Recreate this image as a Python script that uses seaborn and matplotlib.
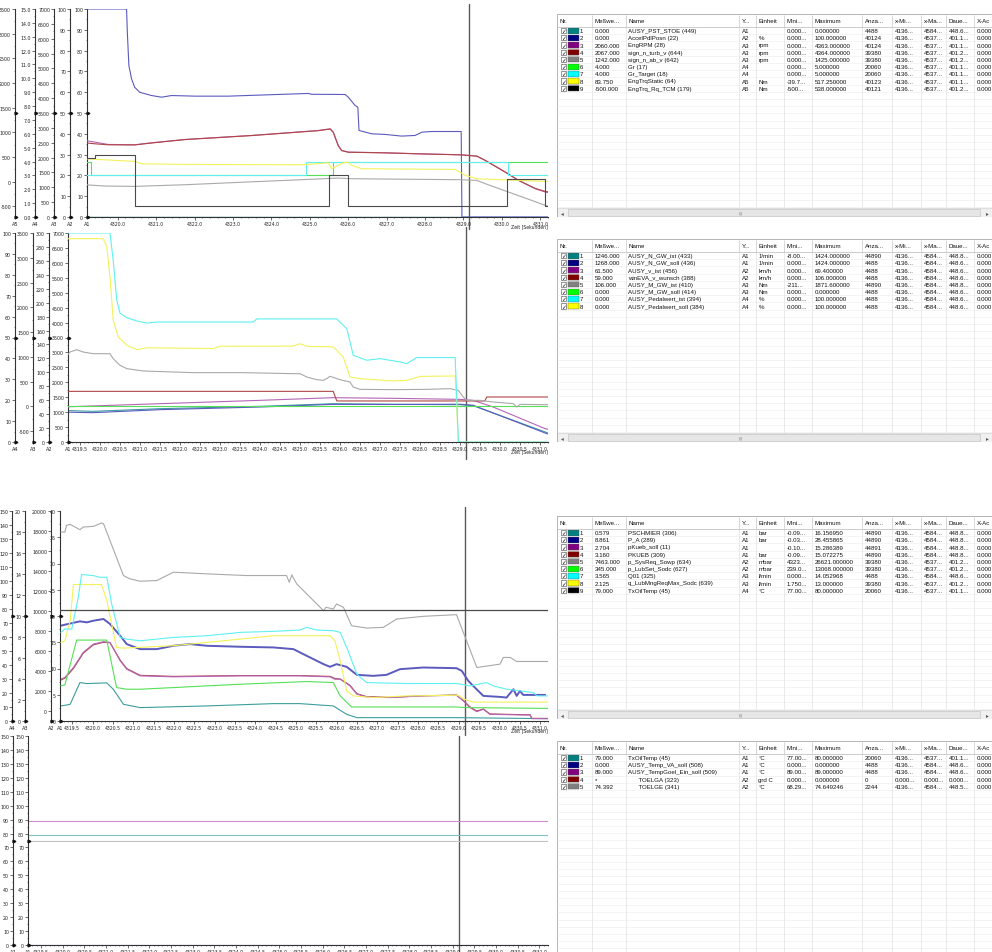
import matplotlib
matplotlib.use("Agg")
import matplotlib.pyplot as plt
import seaborn as sns
from matplotlib.patches import Rectangle
from matplotlib.lines import Line2D
from matplotlib.ticker import MultipleLocator, AutoMinorLocator, FormatStrFormatter

sns.set_theme(style="ticks")
plt.rcParams["font.family"] = ["DejaVu Sans"]

W, H = 992, 953
T_RANGE = (4319.2, 4331.2)
CURSOR_T = 4329.15

# ---------------- window 1 : engine / gear ----------------
w1_pst_t = [4319.1, 4331.3]
w1_pst_v = [0, 0]
w1_pedal_t = [4319.14, 4320.23, 4320.25, 4320.29, 4320.36, 4320.44, 4320.57, 4320.88, 4321.14,
              4321.40, 4322.01, 4322.88, 4323.83, 4324.96, 4325.05, 4325.92, 4326.00, 4326.18,
              4326.25, 4326.28, 4326.61, 4326.96, 4327.39, 4327.74, 4327.92, 4328.18, 4328.94,
              4328.96, 4331.3]
w1_pedal_v = [100, 100, 88.8, 72.8, 66.4, 62.4, 60.0, 58.4, 57.6, 58.4, 58.1, 58.1, 58.7, 59.4,
              59.0, 58.9, 57.6, 53.6, 52.8, 41.6, 40.0, 39.7, 38.9, 39.2, 40.8, 41.1, 41.1, 0, 0]
w1_rpm_t = [4319.14, 4319.40, 4319.75, 4320.44, 4320.88, 4321.75, 4323.48, 4325.22, 4325.53,
            4325.61, 4325.74, 4325.83, 4326.00, 4326.96, 4327.83, 4328.96, 4329.35, 4329.57,
            4330.09, 4330.43, 4330.87, 4331.13, 4331.3]
w1_eng_rpm = [2576, 2520, 2442, 2430, 2498, 2610, 2744, 2912, 2968, 2856, 2408, 2240, 2184, 2162,
              2128, 2094, 2050, 1904, 1512, 1232, 952, 840, 800]
w1_turb_rpm = [2498, 2464, 2430, 2425, 2490, 2605, 2740, 2905, 2960, 2850, 2400, 2235, 2180, 2158,
               2125, 2090, 2046, 1900, 1508, 1235, 960, 860, 830]
w1_ab_t = [4319.14, 4319.66, 4320.44, 4321.75, 4324.35, 4325.74, 4326.09, 4328.96, 4329.35,
           4329.57, 4331.13, 4331.3]
w1_ab_v = [1086, 1042, 1030, 1086, 1232, 1310, 1288, 1254, 1232, 1120, 392, 320]
w1_gr_t = [4319.1, 4319.30, 4325.60, 4331.3]
w1_gr_v = [4, 3, 4, 4]
w1_grtgt_t = [4319.1, 4324.91, 4330.15, 4331.3]
w1_grtgt_v = [3, 4, 3, 3]
w1_trq_t = [4319.14, 4320.44, 4320.62, 4321.75, 4324.87, 4325.48, 4325.57, 4325.74, 4325.87,
            4326.0, 4326.09, 4326.35, 4328.78, 4329.05, 4329.35, 4331.13, 4331.3]
w1_trq_v = [462, 408, 360, 347, 340, 380, 259, 327, 380, 394, 327, 259, 245, 124, 56, 2, 2]
w1_tcm_t = [4319.1, 4319.40, 4320.44, 4325.50, 4326.00, 4330.12, 4331.11, 4331.3]
w1_tcm_v = [480, 529, -500, 124, -500, 56, -500, -500]

# ---------------- window 2 : vehicle / pedal ----------------
w2_n_t = [4319.0, 4319.83, 4321.5, 4324.0, 4325.83, 4327.33, 4329.0, 4329.33, 4331.13, 4331.3]
w2_n_ist = [1060, 1027, 1116, 1194, 1283, 1262, 1250, 1215, 335, 250]
w2_n_soll = [1004, 982, 1083, 1172, 1261, 1258, 1265, 1230, 301, 220]
w2_v_t = [4319.0, 4321.5, 4324.0, 4325.83, 4327.33, 4329.0, 4329.33, 4329.83, 4331.13, 4331.3]
w2_v_ist = [50.2, 55.0, 59.8, 63.6, 62.7, 61.2, 59.8, 50.2, 19.1, 17.0]
w2_vw_t = [4319.0, 4325.83, 4325.92, 4329.62, 4329.67, 4331.3]
w2_vw_v = [72.7, 72.7, 58.9, 58.9, 64.6, 64.6]
w2_m_t = [4319.0, 4319.08, 4319.25, 4319.42, 4319.58, 4319.83, 4320.25, 4320.33, 4320.5, 4320.67,
          4321.08, 4322.33, 4323.58, 4324.83, 4325.0, 4325.17, 4325.42, 4325.58, 4325.67, 4325.75,
          4326.0, 4326.25, 4326.33, 4326.5, 4327.33, 4328.17, 4328.75, 4328.96, 4329.08, 4329.17,
          4329.5, 4329.83, 4330.33, 4330.42, 4330.5, 4331.13, 4331.3]
w2_m_ist = [862, 929, 1097, 1144, 1097, 1063, 1063, 962, 828, 761, 714, 680, 680, 660, 660, 592,
            538, 525, 560, 606, 538, 491, 390, 343, 337, 343, 357, 323, 189, 121, 121, 88, 54,
            -13, 40, 34, 34]
w2_msoll_t = [4319.0, 4331.3]
w2_msoll_v = [0, 0]
w2_pist_t = [4319.0, 4320.25, 4320.33, 4320.42, 4320.5, 4320.67, 4320.92, 4321.17, 4321.42,
             4323.83, 4323.92, 4325.92, 4326.17, 4326.25, 4326.33, 4326.67, 4327.0, 4327.5,
             4327.67, 4327.92, 4328.88, 4328.96, 4331.3]
w2_pist_v = [100, 100, 86.9, 67.8, 61.7, 59.5, 57.9, 56.9, 57.4, 57.4, 58.9, 58.9, 54.2, 47.9,
             41.5, 39.1, 39.9, 38.3, 37.5, 40.4, 40.4, 0, 0]
w2_psoll_t = [4319.0, 4320.08, 4320.17, 4320.25, 4320.33, 4320.46, 4320.67, 4320.92, 4321.17,
              4322.83, 4323.0, 4324.83, 4325.0, 4325.17, 4325.83, 4326.08, 4326.25, 4326.5,
              4327.33, 4327.67, 4328.0, 4328.88, 4328.96, 4331.3]
w2_psoll_v = [97.3, 97.3, 93.3, 79.0, 58.2, 50.2, 46.3, 44.2, 45.1, 44.7, 45.8, 45.9, 47.0, 45.8,
              45.5, 40.7, 31.1, 30.3, 29.2, 29.5, 31.4, 31.6, 0, 0]

# ---------------- window 3 : hydraulics ----------------
w3_schm_t = [4319.22, 4319.32, 4319.45, 4319.69, 4319.86, 4320.35, 4320.51, 4320.76, 4321.17,
             4322.81, 4324.45, 4325.1, 4325.92, 4326.25, 4326.5, 4328.95, 4331.13, 4331.2]
w3_schm_v = [2.87, 2.99, 3.18, 7.32, 7.13, 7.26, 6.05, 3.18, 2.55, 2.87, 3.31, 3.31, 2.87, 1.27,
             0.64, 0.64, 0.45, 0.45]
w3_pa_t = [4319.22, 4319.32, 4319.69, 4319.86, 4320.02, 4320.27, 4320.43, 4320.68, 4320.84,
           4321.17, 4321.58, 4321.99, 4322.4, 4322.81, 4323.63, 4324.45, 4324.94, 4325.1,
           4325.68, 4325.84, 4326.0, 4326.25, 4326.5, 4326.9, 4327.23, 4327.56, 4328.13,
           4328.95, 4329.08, 4329.24, 4329.36, 4329.61, 4330.02, 4330.18, 4330.35, 4330.43,
           4330.51, 4330.59, 4331.13]
w3_pa_v = [18.15, 18.34, 18.98, 18.79, 19.1, 19.43, 18.47, 16.24, 14.65, 13.69, 13.69, 14.33,
           14.65, 14.33, 14.14, 14.01, 13.69, 13.06, 10.83, 10.32, 10.83, 10.32, 8.79, 8.6, 8.79,
           9.87, 10.19, 10.06, 9.55, 7.64, 6.69, 4.78, 4.59, 4.46, 6.05, 4.78, 5.73, 4.97, 4.97]
w3_kueb_t = [4319.22, 4319.32, 4319.53, 4319.77, 4320.02, 4320.27, 4320.43, 4320.68, 4320.84,
             4321.17, 4321.99, 4323.63, 4325.1, 4325.84, 4325.96, 4326.09, 4326.33, 4326.5,
             4326.74, 4327.31, 4328.13, 4328.95, 4329.12, 4329.28, 4329.45, 4329.61, 4329.77,
             4330.59, 4330.76, 4330.8, 4331.2]
w3_kueb_soll = [7.96, 8.28, 10.19, 13.06, 14.65, 15.1, 14.97, 11.46, 9.87, 8.6, 8.41, 8.6, 8.6,
                8.41, 7.96, 7.96, 6.69, 5.1, 4.59, 4.46, 4.78, 4.9, 3.82, 2.55, 1.78, 2.23, 1.27,
                1.15, 1.15, 0.45, 0.45]
w3_kueb_ist = [7.8, 8.15, 10.0, 12.9, 14.5, 15.0, 14.9, 11.6, 10.0, 8.7, 8.5, 8.65, 8.65, 8.5,
               8.1, 8.0, 6.8, 5.2, 4.65, 4.5, 4.8, 4.95, 3.9, 2.7, 1.9, 2.3, 1.35, 1.2, 1.2, 0.5,
               0.5]
w3_sys_t = [4319.22, 4319.32, 4319.36, 4319.45, 4319.69, 4319.77, 4320.02, 4320.22, 4320.27,
            4320.76, 4320.92, 4321.17, 4321.58, 4321.99, 4322.81, 4323.79, 4324.77, 4324.84,
            4324.9, 4325.02, 4325.68, 4325.74, 4325.92, 4326.0, 4326.17, 4326.37, 4326.74,
            4327.15, 4327.48, 4328.13, 4328.95, 4329.45, 4330.02, 4330.1, 4330.27, 4330.43,
            4331.2]
w3_sys_v = [17894, 17894, 18562, 18663, 18127, 18395, 18462, 18796, 18730, 13546, 13212, 12978,
            13045, 13881, 13714, 13546, 13546, 12877, 13613, 12710, 10035, 10370, 10202, 10704,
            10370, 8530, 8296, 8363, 9199, 9467, 9634, 4350, 4685, 5354, 5354, 4952, 4952]
w3_lub_t = [4319.22, 4319.32, 4319.61, 4320.35, 4320.59, 4320.84, 4321.17, 4323.63, 4325.27,
            4325.92, 4326.09, 4326.37, 4328.95, 4329.12, 4331.13, 4331.2]
w3_lub_v = [2511, 2612, 7092, 7092, 2344, 2177, 2177, 2678, 2946, 2846, 1508, 404, 404, 345, 260,
            260]
w3_q01_t = [4319.22, 4319.32, 4319.49, 4319.65, 4319.73, 4320.02, 4320.18, 4320.35, 4320.47,
            4320.68, 4320.84, 4321.17, 4321.99, 4322.81, 4323.63, 4324.45, 4325.1, 4325.27,
            4325.51, 4325.92, 4326.09, 4326.25, 4326.5, 4326.74, 4327.72, 4328.95, 4329.28,
            4329.69, 4329.86, 4330.18, 4330.84, 4330.93, 4331.2]
w3_q01_v = [8.44, 8.76, 8.76, 11.78, 13.95, 13.85, 13.69, 13.69, 11.15, 7.96, 7.80, 7.64, 7.96,
            8.12, 8.44, 8.54, 8.66, 8.92, 8.66, 8.60, 8.44, 7.01, 4.46, 3.66, 3.57, 3.57, 3.34,
            3.66, 3.34, 3.03, 2.71, 2.39, 2.39]
w3_qmax_t = [4319.22, 4319.32, 4319.45, 4319.53, 4320.22, 4320.35, 4320.59, 4320.76, 4321.99,
             4323.63, 4324.45, 4325.84, 4325.96, 4326.09, 4326.25, 4326.41, 4326.9, 4327.72,
             4328.99, 4329.12, 4329.36, 4331.2]
w3_qmax_v = [7.48, 7.64, 9.55, 13.0, 13.0, 11.46, 7.0, 6.94, 7.17, 7.8, 8.12, 8.12, 7.64, 5.73,
             2.87, 2.39, 2.23, 2.39, 2.45, 2.1, 1.8, 1.8]
w3_oil_t = [4319.2, 4331.2]
w3_oil_v = [79, 79]

# ---------------- window 4 : temperatures ----------------
w4_t = [4319.2, 4331.2]
w4_oil_v = [79.0, 79.0]
w4_va_soll_v = [0.0, 0.0]
w4_goel_soll_v = [89.0, 89.0]
w4_toelge_v = [74.392, 74.392]

# ---------------- channel tables ----------------
TABLE_HEAD = ["Nr.", "Meßwe...", "Name", "Y...", "Einheit", "Mini...", "Maximum", "Anza...",
              "x-Mi...", "x-Ma...", "Daue...", "X-Ac"]
SWATCH = ["#008080", "#000080", "#800080", "#800000", "#808080", "#00ff00", "#00ffff",
          "#ffff00", "#000000"]

t1_value = ["0.000", "0.000", "2060.000", "2067.000", "1242.000", "4.000", "4.000", "83.750", "-500.000"]
t1_name = ["AUSY_PST_STOE (449)", "AccelPdlPosn (22)", "EngRPM (28)", "sign_n_turb_v (644)",
           "sign_n_ab_v (642)", "Gr (17)", "Gr_Target (18)", "EngTrqStatic (64)", "EngTrq_Rq_TCM (179)"]
t1_axis = ["A1", "A2", "A3", "A3", "A3", "A4", "A4", "A5", "A5"]
t1_unit = ["", "%", "rpm", "rpm", "rpm", "", "", "Nm", "Nm"]
t1_min = ["0.000...", "0.000...", "0.000...", "0.000...", "0.000...", "0.000...", "0.000...", "-39.7...", "-500..."]
t1_max = ["0.000000", "100.000000", "4363.000000", "4364.000000", "1425.000000", "5.000000",
          "5.000000", "517.250000", "538.000000"]
t1_count = ["4488", "40124", "40124", "39380", "39380", "20060", "20060", "40123", "40121"]
t1_xmin = ["4136..."] * 9
t1_xmax = ["4584..."] + ["4537..."] * 8
t1_dur = ["448.6...", "401.1...", "401.1...", "401.2...", "401.2...", "401.1...", "401.1...", "401.1...", "401.2..."]
t1_xac = ["0.000"] * 9

t2_value = ["1246.000", "1268.000", "61.500", "59.000", "106.000", "0.000", "0.000", "0.000"]
t2_name = ["AUSY_N_GW_ist (433)", "AUSY_N_GW_soll (436)", "AUSY_v_ist (456)", "winEVA_v_wunsch (388)",
           "AUSY_M_GW_ist (410)", "AUSY_M_GW_soll (414)", "AUSY_Pedalwert_ist (394)",
           "AUSY_Pedalwert_soll (384)"]
t2_axis = ["A1", "A1", "A2", "A2", "A3", "A3", "A4", "A4"]
t2_unit = ["1/min", "1/min", "km/h", "km/h", "Nm", "Nm", "%", "%"]
t2_min = ["-8.00...", "0.000...", "0.000...", "0.000...", "-211...", "0.000...", "0.000...", "0.000..."]
t2_max = ["1424.000000", "1424.000000", "69.400000", "106.000000", "1871.600000", "0.000000",
          "100.000000", "100.000000"]
t2_count = ["44890", "4488", "4488", "4488", "44890", "4488", "4488", "4488"]
t2_xmin = ["4136..."] * 8
t2_xmax = ["4584..."] * 8
t2_dur = ["448.8...", "448.6...", "448.6...", "448.6...", "448.8...", "448.6...", "448.6...", "448.6..."]
t2_xac = ["0.000"] * 8

t3_value = ["0.579", "8.861", "2.704", "3.160", "7463.000", "345.000", "3.565", "2.125", "79.000"]
t3_name = ["PSCHMIER (306)", "P_A (289)", "pKueb_soll (11)", "PKUEB (309)", "p_SysReq_Sowp (634)",
           "p_LubSet_Sodc (627)", "Q01 (325)", "q_LubMngReqMax_Sodc (639)", "TxOilTemp (45)"]
t3_axis = ["A1", "A1", "A1", "A1", "A2", "A2", "A3", "A3", "A4"]
t3_unit = ["bar", "bar", "", "bar", "mbar", "mbar", "l/min", "l/min", "°C"]
t3_min = ["-0.09...", "-0.03...", "-0.10...", "-0.09...", "4323...", "239.0...", "0.000...", "1.750...", "77.00..."]
t3_max = ["16.156950", "28.455865", "15.286389", "15.072275", "26621.000000", "13068.000000",
          "14.052968", "13.000000", "80.000000"]
t3_count = ["44890", "44890", "44891", "44890", "39380", "39380", "4488", "39380", "20060"]
t3_xmin = ["4136..."] * 9
t3_xmax = ["4584...", "4584...", "4584...", "4584...", "4537...", "4537...", "4584...", "4537...", "4537..."]
t3_dur = ["448.8...", "448.8...", "448.8...", "448.8...", "401.2...", "401.2...", "448.6...", "401.2...", "401.1..."]
t3_xac = ["0.000"] * 9

t4_value = ["79.000", "0.000", "89.000", "*", "74.392"]
t4_name = ["TxOilTemp (45)", "AUSY_Temp_VA_soll (508)", "AUSY_TempGoel_Ein_soll (509)",
           "      TOELGA (323)", "      TOELGE (341)"]
t4_axis = ["A1", "A1", "A1", "A2", "A2"]
t4_unit = ["°C", "°C", "°C", "grd C", "°C"]
t4_min = ["77.00...", "0.000...", "89.00...", "0.000...", "68.29..."]
t4_max = ["80.000000", "0.000000", "89.000000", "0.000000", "74.649246"]
t4_count = ["20060", "4488", "4488", "0", "2244"]
t4_xmin = ["4136...", "4136...", "4136...", "0.000...", "4136..."]
t4_xmax = ["4537...", "4584...", "4584...", "0.000...", "4584..."]
t4_dur = ["401.1...", "448.6...", "448.6...", "0.000...", "448.5..."]
t4_xac = ["0.000"] * 5

# line colours as rendered in the graph windows
C_TEAL, C_NAVY, C_PURP, C_MAR = "#3c9e9e", "#5a5abf", "#b565b5", "#b04545"
C_GRAY, C_LIME, C_CYAN, C_YEL, C_BLK = "#a9a9a9", "#55e055", "#5ff0f0", "#f2f25a", "#4a4a4a"

fig = plt.figure(figsize=(W / 100, H / 100), dpi=100)
fig.patch.set_facecolor("white")
AX_COLOR = "#333333"


def rect(x0, y0, x1, y1):
    return [x0 / W, 1 - y1 / H, (x1 - x0) / W, (y1 - y0) / H]


def marker(px, py, ms=2.0):
    fig.add_artist(Line2D([px / W], [1 - py / H], marker=">", ms=ms, color="#111111",
                          lw=0, transform=fig.transFigure))


def make_axes(key, box, defs, xstep, cursor_span):
    x0, y0, x1, y1 = box
    axes = {}
    host = None
    for name, spine_x, lo, hi, step, fmt in defs:
        ax = fig.add_axes(rect(x0, y0, x1, y1), label=f"{key}{name}", sharex=host)
        ax.set_facecolor("none")
        ax.grid(False)
        for side in ("top", "right"):
            ax.spines[side].set_visible(False)
        ax.spines["left"].set_position(("outward", (x0 - spine_x) * 0.72))
        ax.spines["left"].set_color(AX_COLOR)
        ax.spines["left"].set_linewidth(0.8)
        ax.set_ylim(lo, hi)
        ax.yaxis.set_major_locator(MultipleLocator(step))
        ax.yaxis.set_minor_locator(AutoMinorLocator(2))
        ax.yaxis.set_major_formatter(FormatStrFormatter(fmt))
        ax.tick_params(axis="y", which="major", direction="out", length=2, width=0.5,
                       color=AX_COLOR, labelsize=3.4, labelcolor="#222222", pad=0.8, left=True)
        ax.tick_params(axis="y", which="minor", direction="out", length=1, width=0.4,
                       color=AX_COLOR, left=True)
        if host is None:
            host = ax
            ax.spines["bottom"].set_color(AX_COLOR)
            ax.spines["bottom"].set_linewidth(0.8)
            ax.xaxis.set_major_locator(MultipleLocator(xstep))
            ax.xaxis.set_minor_locator(AutoMinorLocator(5))
            ax.xaxis.set_major_formatter(FormatStrFormatter("%.1f"))
            ax.tick_params(axis="x", which="major", direction="out", length=2, width=0.5,
                           color=AX_COLOR, labelsize=3.3, labelcolor="#222222", pad=0.8, bottom=True)
            ax.tick_params(axis="x", which="minor", direction="out", length=1, width=0.4,
                           color=AX_COLOR, bottom=True)
        else:
            ax.spines["bottom"].set_visible(False)
            ax.tick_params(axis="x", which="both", bottom=False, labelbottom=False)
        fig.text(spine_x / W, 1 - (y1 + 7) / H, name, ha="center", va="center",
                 fontsize=3.6, color="#222222")
        marker(spine_x + 1.2, (y0 + y1) / 2)
        marker(spine_x + 1.2, y1 - 0.5)
        axes[name] = ax
    host.set_xlim(*T_RANGE)
    fig.text(x1 / W, 1 - (y1 + 9) / H, "Zeit [Sekunden]", ha="right", va="center",
             fontsize=3.3, color="#222222")
    host.axvline(CURSOR_T, ymin=cursor_span[0], ymax=cursor_span[1], clip_on=False,
                 color="#5a5a5a", lw=1.0, zorder=0.5)
    return axes


def draw(ax, t, v, color, lw=0.8, steps=False):
    extra = {"drawstyle": "steps-post"} if steps else {}
    sns.lineplot(x=t, y=v, ax=ax, color=color, linewidth=lw, estimator=None, sort=False,
                 legend=False, **extra)
    ax.set_xlabel("")
    ax.set_ylabel("")


COLS = [557, 592, 626, 739, 756, 784, 812, 862, 892, 921, 946, 974, 992]
TFONT = dict(fontsize=4.4, family=["Liberation Sans", "DejaVu Sans"], color="#111111")


def make_table(key, y_top, y_bot, columns, scroll=True):
    tx = fig.add_axes(rect(557, y_top, 992, y_bot), label=key)
    tx.set_xlim(557, 992)
    tx.set_ylim(y_bot, y_top)
    tx.axis("off")
    hdr = 13.0
    row_h = 7.2
    body_bot = y_bot - 9 if scroll else y_bot
    yy = y_top + hdr + row_h
    while yy < body_bot:
        tx.hlines(yy, 557, 992, color="#ededed", lw=0.4)
        yy += row_h
    tx.vlines(COLS[1:-1], y_top + hdr, body_bot, color="#e2e2e2", lw=0.5)
    tx.vlines(COLS[1:-1], y_top + 1, y_top + hdr, color="#c8c8c8", lw=0.5)
    tx.hlines(y_top + hdr, 557, 992, color="#c4c4c4", lw=0.6)
    for c, head in enumerate(TABLE_HEAD):
        tx.text(COLS[c] + 2.5, y_top + hdr / 2, head, va="center", ha="left", **TFONT)
    n = len(columns[0])
    for r in range(n):
        yc = y_top + hdr + row_h * (r + 0.5)
        tx.add_patch(Rectangle((561, yc - 2.6), 5.2, 5.2, facecolor="white",
                               edgecolor="#444444", lw=0.4))
        tx.text(563.6, yc + 0.2, "✓", ha="center", va="center", fontsize=4.2,
                color="#111111", fontweight="bold")
        tx.add_patch(Rectangle((567.6, yc - 3.0), 11.2, 6.0, facecolor=SWATCH[r],
                               edgecolor="#555555", lw=0.3))
        tx.text(580, yc, str(r + 1), va="center", ha="left", **TFONT)
        for c, col in enumerate(columns):
            tx.text(COLS[c + 1] + 2.5, yc, col[r], va="center", ha="left", **TFONT)
    if scroll:
        tx.add_patch(Rectangle((557, body_bot), 435, 9, facecolor="#f0f0f0",
                               edgecolor="#d4d4d4", lw=0.5))
        tx.add_patch(Rectangle((568, body_bot + 1.2), 412, 6.6, facecolor="#e6e6e6",
                               edgecolor="#bcbcbc", lw=0.4))
        tx.text(562, body_bot + 4.5, "◂", ha="center", va="center", fontsize=4, color="#555555")
        tx.text(987, body_bot + 4.5, "▸", ha="center", va="center", fontsize=4, color="#555555")
        tx.text(741, body_bot + 4.5, "|||", ha="center", va="center", fontsize=3, color="#777777")
    tx.add_patch(Rectangle((557, y_top), 435, y_bot - y_top, fill=False,
                           edgecolor="#a8a8a8", lw=0.6))


# ---------------- window 1 ----------------
a1 = make_axes("w1", (87, 10, 548, 218), [
    ("A1", 87, 0, 100, 10, "%d"),
    ("A2", 70, 0, 100, 10, "%d"),
    ("A3", 54, 0, 7000, 500, "%d"),
    ("A4", 35, 0, 15, 1, "%.1f"),
    ("A5", 15, -720, 3500, 500, "%d"),
], 1.0, (-0.058, 1.024))
draw(a1["A3"], w1_ab_t, w1_ab_v, C_GRAY)
draw(a1["A4"], w1_gr_t, w1_gr_v, C_LIME, steps=True)
draw(a1["A4"], w1_grtgt_t, w1_grtgt_v, C_CYAN, steps=True)
draw(a1["A5"], w1_trq_t, w1_trq_v, C_YEL)
draw(a1["A3"], w1_rpm_t, w1_eng_rpm, C_PURP)
draw(a1["A3"], w1_rpm_t, w1_turb_rpm, C_MAR)
draw(a1["A2"], w1_pedal_t, w1_pedal_v, C_NAVY)
draw(a1["A5"], w1_tcm_t, w1_tcm_v, C_BLK, steps=True)
draw(a1["A1"], w1_pst_t, w1_pst_v, C_TEAL, lw=1.0)

# ---------------- window 2 ----------------
a2 = make_axes("w2", (68, 234, 548, 443), [
    ("A1", 68, 0, 7000, 500, "%d"),
    ("A2", 49, 0, 300, 20, "%d"),
    ("A3", 33, -720, 3500, 500, "%d"),
    ("A4", 15, 0, 100, 10, "%d"),
], 0.5, (-0.08, 1.03))
draw(a2["A3"], w2_msoll_t, w2_msoll_v, C_LIME)
draw(a2["A1"], w2_n_t, w2_n_ist, C_TEAL)
draw(a2["A1"], w2_n_t, w2_n_soll, C_NAVY)
draw(a2["A2"], w2_v_t, w2_v_ist, C_PURP)
draw(a2["A2"], w2_vw_t, w2_vw_v, C_MAR)
draw(a2["A3"], w2_m_t, w2_m_ist, C_GRAY)
draw(a2["A4"], w2_psoll_t, w2_psoll_v, C_YEL)
draw(a2["A4"], w2_pist_t, w2_pist_v, C_CYAN)

# ---------------- window 3 ----------------
a3 = make_axes("w3", (60, 512, 548, 722), [
    ("A1", 60, 0, 40, 5, "%d"),
    ("A2", 51, -1000, 20000, 2000, "%d"),
    ("A3", 25, 0, 20, 2, "%d"),
    ("A4", 12, 0, 150, 10, "%d"),
], 0.5, (-0.065, 1.02))
draw(a3["A4"], w3_oil_t, w3_oil_v, C_BLK, lw=0.9)
draw(a3["A2"], w3_sys_t, w3_sys_v, C_GRAY)
draw(a3["A2"], w3_lub_t, w3_lub_v, C_LIME)
draw(a3["A3"], w3_qmax_t, w3_qmax_v, C_YEL)
draw(a3["A3"], w3_q01_t, w3_q01_v, C_CYAN)
draw(a3["A1"], w3_schm_t, w3_schm_v, C_TEAL)
draw(a3["A1"], w3_kueb_t, w3_kueb_ist, C_MAR)
draw(a3["A1"], w3_kueb_t, w3_kueb_soll, C_PURP)
draw(a3["A1"], w3_pa_t, w3_pa_v, C_NAVY, lw=1.4)

# ---------------- window 4 ----------------
a4 = make_axes("w4", (28, 737, 548, 946), [
    ("A1", 28, 0, 150, 10, "%d"),
    ("A2", 13, 0, 150, 10, "%d"),
], 0.5, (-0.04, 1.0))
draw(a4["A2"], w4_t, w4_toelge_v, "#c4c4c4")
draw(a4["A1"], w4_t, w4_oil_v, "#7fc2c2")
draw(a4["A1"], w4_t, w4_goel_soll_v, "#cf8fcf")
draw(a4["A1"], w4_t, w4_va_soll_v, C_NAVY)

# ---------------- channel tables ----------------
make_table("tab1", 15, 218, [t1_value, t1_name, t1_axis, t1_unit, t1_min, t1_max, t1_count,
                             t1_xmin, t1_xmax, t1_dur, t1_xac])
make_table("tab2", 240, 443, [t2_value, t2_name, t2_axis, t2_unit, t2_min, t2_max, t2_count,
                              t2_xmin, t2_xmax, t2_dur, t2_xac])
make_table("tab3", 517, 720, [t3_value, t3_name, t3_axis, t3_unit, t3_min, t3_max, t3_count,
                              t3_xmin, t3_xmax, t3_dur, t3_xac])
make_table("tab4", 742, 953, [t4_value, t4_name, t4_axis, t4_unit, t4_min, t4_max, t4_count,
                              t4_xmin, t4_xmax, t4_dur, t4_xac], scroll=False)

fig.savefig("out.png", dpi=100, facecolor="white")
